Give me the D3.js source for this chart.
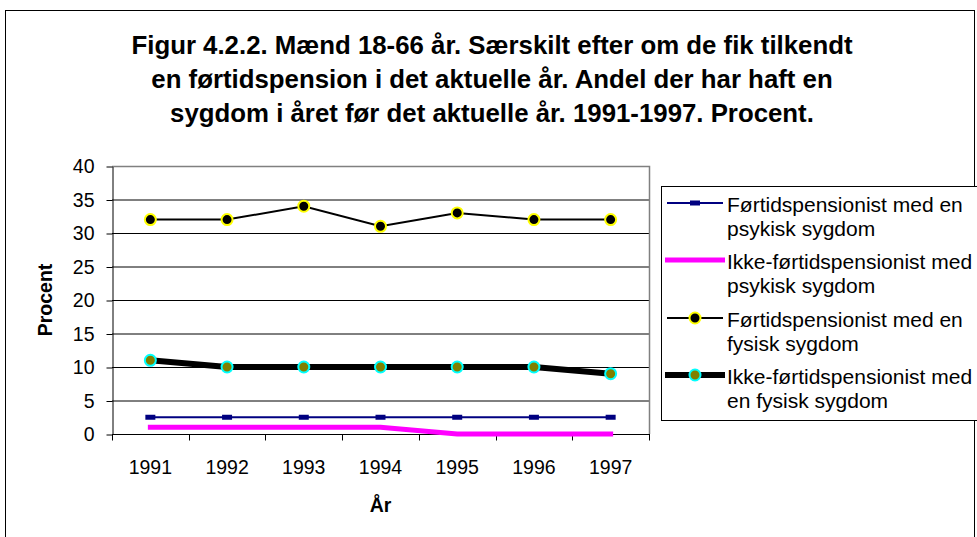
<!DOCTYPE html>
<html><head><meta charset="utf-8">
<script src="https://cdn.jsdelivr.net/npm/d3@7"></script>
<style>body{margin:0;background:#fff}svg{display:block;font-family:"Liberation Sans",Arial,sans-serif}</style>
</head><body><svg width="977" height="537"></svg>
<script>
const years = ["1991","1992","1993","1994","1995","1996","1997"];
const yTicks = [0,5,10,15,20,25,30,35,40];
const forPsyk = [2.5,2.5,2.5,2.5,2.5,2.5,2.5];
const ikkePsyk = [1,1,1,1,0,0,0];
const forFys = [32,32,34,31,33,32,32];
const ikkeFys = [11,10,10,10,10,10,9];
const titleLines = ["Figur 4.2.2. Mænd 18-66 år. Særskilt efter om de fik tilkendt","en førtidspension i det aktuelle år. Andel der har haft en","sygdom i året før det aktuelle år. 1991-1997. Procent."];
const legendNames = [["Førtidspensionist med en","psykisk sygdom"],["Ikke-førtidspensionist med","psykisk sygdom"],["Førtidspensionist med en","fysisk sygdom"],["Ikke-førtidspensionist med","en fysisk sygdom"]];

const svg = d3.select("svg");
svg.append("rect").attr("x",5.5).attr("y",10.5).attr("width",969).attr("height",540).attr("fill","none").attr("stroke","#000").attr("stroke-width",1);

const L=112,R=649,T=166,B=434;
const x = d3.scaleBand().domain(years).range([L,R]);
const y = d3.scaleLinear().domain([0,40]).range([B,T]);

// title
svg.append("g").selectAll("text").data(titleLines).join("text")
  .attr("x",492).attr("y",(d,i)=>54+i*34).attr("text-anchor","middle")
  .attr("font-size",25.8).attr("font-weight","bold").text(d=>d);

// gridlines
svg.append("g").selectAll("line").data(yTicks.filter(t=>t>0&&t<40)).join("line")
  .attr("x1",L).attr("x2",R).attr("y1",d=>y(d)+0.5).attr("y2",d=>y(d)+0.5).attr("stroke","#000").attr("stroke-width",1);
svg.append("path").attr("d",`M${L},${y(40)+0.5}H${R+0.5}V${B}`).attr("fill","none").attr("stroke","#808080").attr("stroke-width",1.5);

// axes
const yAxis = svg.append("g").attr("transform",`translate(${L+0.5},0.5)`)
  .call(d3.axisLeft(y).tickValues(yTicks).tickSize(6).tickSizeOuter(0).tickPadding(12));
yAxis.select(".domain").attr("stroke","#000");
yAxis.selectAll("text").attr("font-size",19.5).attr("fill","#000").attr("font-family","Liberation Sans, Arial, sans-serif");

const xAxis = svg.append("g").attr("transform",`translate(0,${B+0.5})`);
xAxis.append("line").attr("x1",L).attr("x2",R+1).attr("stroke","#000");
const bounds = years.map(d=>x(d)).concat([R]);
xAxis.selectAll("line.tk").data(bounds).join("line").attr("class","tk")
  .attr("x1",d=>Math.round(d)+0.5).attr("x2",d=>Math.round(d)+0.5).attr("y1",0).attr("y2",6).attr("stroke","#000");
xAxis.selectAll("text").data(years).join("text")
  .attr("x",d=>x(d)+x.bandwidth()/2).attr("y",39).attr("text-anchor","middle").attr("font-size",19.5).text(d=>d);

svg.append("text").attr("x",x("1994")+x.bandwidth()/2).attr("y",512).attr("text-anchor","middle").attr("font-size",19.5).attr("font-weight","bold").text("År");
svg.append("text").attr("transform",`translate(52,${(T+B)/2}) rotate(-90)`).attr("text-anchor","middle").attr("font-size",19.5).attr("font-weight","bold").text("Procent");

const cx = d=>x(d)+x.bandwidth()/2;
const line = vals => d3.line().x((v,i)=>cx(years[i])).y(v=>y(v))(vals);

// series
svg.append("path").attr("d",line(ikkeFys)).attr("fill","none").attr("stroke","#000").attr("stroke-width",6);
svg.append("path").attr("d",line(forFys)).attr("fill","none").attr("stroke","#000").attr("stroke-width",2);
svg.append("path").attr("d",line(forPsyk)).attr("fill","none").attr("stroke","#000080").attr("stroke-width",2);
svg.append("path").attr("d",line(ikkePsyk)).attr("fill","none").attr("stroke","#ff00ff").attr("stroke-width",5).attr("stroke-linecap","square");

svg.append("g").selectAll("rect").data(forPsyk).join("rect")
  .attr("x",(v,i)=>cx(years[i])-5).attr("y",v=>y(v)-2.5).attr("width",10).attr("height",5).attr("fill","#000080");
svg.append("g").selectAll("circle").data(forFys).join("circle")
  .attr("cx",(v,i)=>cx(years[i])).attr("cy",v=>y(v)).attr("r",5.5).attr("fill","#000").attr("stroke","#ffff00").attr("stroke-width",2);
svg.append("g").selectAll("circle").data(ikkeFys).join("circle")
  .attr("cx",(v,i)=>cx(years[i])).attr("cy",v=>y(v)).attr("r",5.5).attr("fill","#808000").attr("stroke","#00ffff").attr("stroke-width",2);

// legend
const lg = svg.append("g");
lg.append("rect").attr("x",661.5).attr("y",186.5).attr("width",330).attr("height",234).attr("fill","#fff").attr("stroke","#000");
const rowY = [203,260,318,375];
legendNames.forEach((nm,i)=>{
  const yy=rowY[i];
  nm.forEach((t,j)=>lg.append("text").attr("x",727).attr("y",yy+9+j*24).attr("font-size",21).text(t));
});
const sx1=667, sx2=723, sm=(sx1+sx2)/2;
lg.append("line").attr("x1",sx1).attr("x2",sx2).attr("y1",rowY[0]).attr("y2",rowY[0]).attr("stroke","#000080").attr("stroke-width",2);
lg.append("rect").attr("x",sm-5).attr("y",rowY[0]-2.5).attr("width",10).attr("height",5).attr("fill","#000080");
lg.append("line").attr("x1",sx1-2).attr("x2",sx2+2).attr("y1",rowY[1]).attr("y2",rowY[1]).attr("stroke","#ff00ff").attr("stroke-width",5);
lg.append("line").attr("x1",sx1).attr("x2",sx2).attr("y1",rowY[2]).attr("y2",rowY[2]).attr("stroke","#000").attr("stroke-width",2);
lg.append("circle").attr("cx",sm).attr("cy",rowY[2]).attr("r",5.5).attr("fill","#000").attr("stroke","#ffff00").attr("stroke-width",2);
lg.append("line").attr("x1",sx1-2).attr("x2",sx2+2).attr("y1",rowY[3]).attr("y2",rowY[3]).attr("stroke","#000").attr("stroke-width",6);
lg.append("circle").attr("cx",sm).attr("cy",rowY[3]).attr("r",5.5).attr("fill","#808000").attr("stroke","#00ffff").attr("stroke-width",2);
</script></body></html>
